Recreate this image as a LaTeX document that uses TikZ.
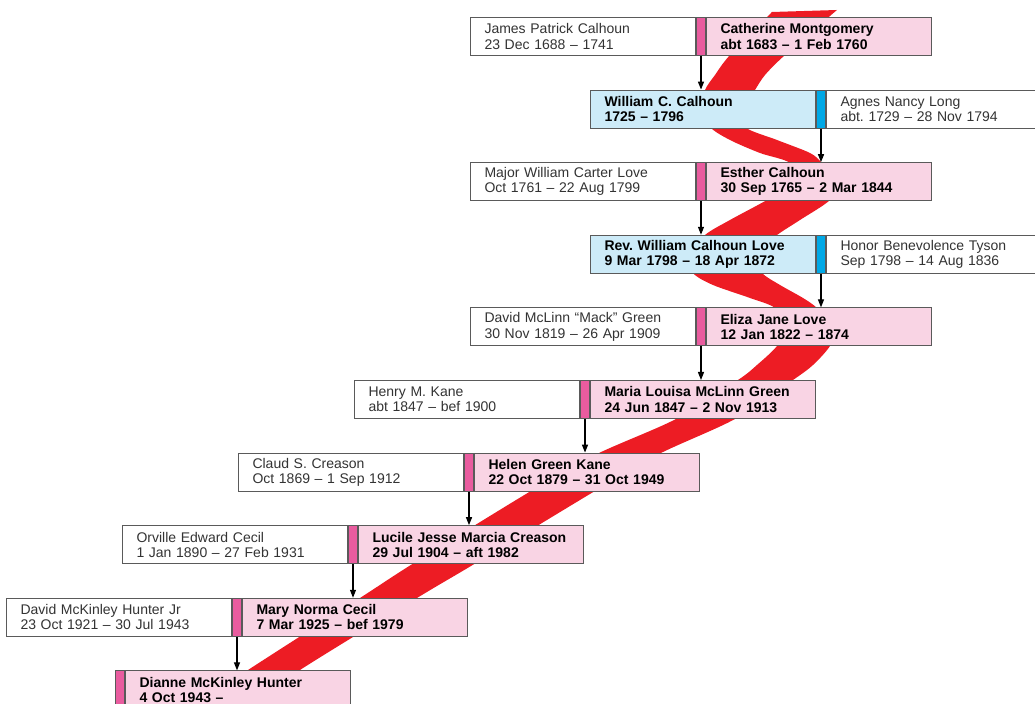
\documentclass[tikz,border=0pt]{standalone}
\usepackage{fontspec}
\setmainfont{Liberation Sans}
\usetikzlibrary{positioning,arrows.meta}

\definecolor{ribbonred}{HTML}{ED1C24}
\definecolor{wifefill}{HTML}{F9D4E4}
\definecolor{husbfill}{HTML}{CDEBF8}
\definecolor{wifemark}{HTML}{E95C9F}
\definecolor{husbmark}{HTML}{00A8E6}
\definecolor{boxline}{HTML}{5A5A5A}

\tikzset{
  person/.style={draw=boxline, line width=0.5pt, minimum height=19pt,
    text width=98.5pt, inner xsep=7pt, inner ysep=0pt, align=left,
    font=\fontsize{7}{7.6}\selectfont},
  spouse/.style={person, fill=white, text=black!80},
  wife/.style={person, fill=wifefill, font=\fontsize{7}{7.6}\selectfont\bfseries},
  husband/.style={person, fill=husbfill, font=\fontsize{7}{7.6}\selectfont\bfseries},
  wifebar/.style={draw=boxline, line width=0.5pt, fill=wifemark,
    minimum width=4.5pt, minimum height=19pt, inner sep=0pt},
  husbbar/.style={wifebar, fill=husbmark},
  descent/.style={line width=0.6pt, -{Triangle[length=4pt,width=3pt]}},
}

\begin{document}
\frenchspacing
\begin{tikzpicture}[x=0.5pt,y=-0.5pt]
    \useasboundingbox (0,0) rectangle (1035,704);
    % the red ribbon behind the boxes
    \fill[ribbonred]
        plot[smooth] coordinates {(772,12) (730,55) (715,75) (705,90) (702,108)
            (710,127) (730,140) (760,153) (790,163) (796,182) (767,200)
            (730,220) (705,235) (689,255) (693,273) (713,285) (750,298)
            (775,308) (786,327) (777,346) (757,365) (738,380) (676,419)
            (597,454) (531,491) (414,563) (360,598) (248,670) (196,705)}
        -- plot[smooth] coordinates {(252,705) (300,670) (417,598) (476,563)
            (595,491) (659,454) (735,419) (793,380) (813,365) (830,346)
            (836,328) (817,308) (803,298) (780,285) (762,273) (752,255)
            (777,235) (800,220) (830,200) (838,182) (822,163) (810,153)
            (777,140) (745,127) (744,108) (755,90) (765,75) (785,55) (837,10)}
        -- cycle;
    % rows with the daughter in the line
    \foreach \r/\bx/\sname/\sdate/\name/\date in {
        0/706/James Patrick Calhoun/23 Dec 1688 -- 1741/Catherine Montgomery/abt 1683 -- 1 Feb 1760,
        2/706/Major William Carter Love/Oct 1761 -- 22 Aug 1799/Esther Calhoun/30 Sep 1765 -- 2 Mar 1844,
        4/706/David McLinn ``Mack'' Green/30 Nov 1819 -- 26 Apr 1909/Eliza Jane Love/12 Jan 1822 -- 1874,
        5/590/Henry M. Kane/abt 1847 -- bef 1900/Maria Louisa McLinn Green/24 Jun 1847 -- 2 Nov 1913,
        6/474/Claud S. Creason/Oct 1869 -- 1 Sep 1912/Helen Green Kane/22 Oct 1879 -- 31 Oct 1949,
        7/358/Orville Edward Cecil/1 Jan 1890 -- 27 Feb 1931/Lucile Jesse Marcia Creason/29 Jul 1904 -- aft 1982,
        8/242/David McKinley Hunter Jr/23 Oct 1921 -- 30 Jul 1943/Mary Norma Cecil/7 Mar 1925 -- bef 1979} {
        \node [wife, anchor=north west] (main\r) at (\bx,{17+72.6*\r}) {\name\\\date};
        \node [wifebar, left=0pt of main\r] (bar\r) {};
        \node [spouse, left=0pt of bar\r] (sp\r) {\sname\\\sdate};
    }
    % rows with the son in the line
    \foreach \r/\name/\date/\sname/\sdate in {
        1/William C. Calhoun/1725 -- 1796/Agnes Nancy Long/abt. 1729 -- 28 Nov 1794,
        3/Rev. William Calhoun Love/9 Mar 1798 -- 18 Apr 1872/Honor Benevolence Tyson/Sep 1798 -- 14 Aug 1836} {
        \node [husband, anchor=north west] (main\r) at (590,{17+72.6*\r}) {\name\\\date};
        \node [husbbar, right=0pt of main\r] (bar\r) {};
        \node [spouse, right=0pt of bar\r] (sp\r) {\sname\\\sdate};
    }
    \node [wife, anchor=north west] (main9) at (125,670.4) {Dianne McKinley Hunter\\4 Oct 1943 --};
    \node [wifebar, left=0pt of main9] (bar9) {};
    % descent arrows
    \foreach \r [evaluate=\r as \n using int(\r+1)] in {0,...,8} {
        \draw[descent] (bar\r.south) -- (bar\r.south |- main\n.north);
    }
\end{tikzpicture}
\end{document}
